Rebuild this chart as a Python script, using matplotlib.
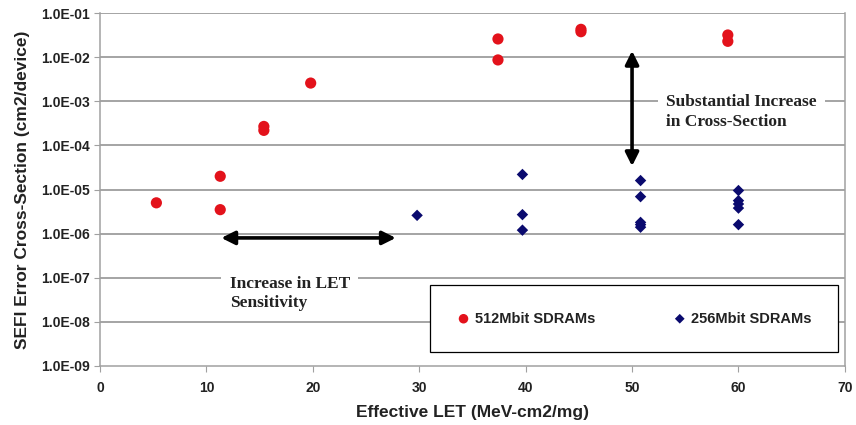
import matplotlib.pyplot as plt
import numpy as np
from matplotlib.ticker import FixedLocator, FuncFormatter

# 512Mbit SDRAMs (red circles)
let_512 = [5.3, 11.3, 11.3, 15.4, 15.4, 19.8, 37.4, 37.4, 45.2, 45.2, 59.0, 59.0]
xs_512 = [5.0e-6, 2.0e-5, 3.5e-6, 2.2e-4, 2.7e-4, 2.6e-3, 2.6e-2, 8.7e-3, 4.3e-2, 3.8e-2, 3.2e-2, 2.3e-2]

# 256Mbit SDRAMs (navy diamonds)
let_256 = [29.8, 39.7, 39.7, 39.7, 50.8, 50.8, 50.8, 50.8, 50.8, 60.0, 60.0, 60.0, 60.0, 60.0]
xs_256 = [2.6e-6, 2.2e-5, 2.7e-6, 1.2e-6, 1.6e-5, 6.9e-6, 1.8e-6, 1.6e-6, 1.4e-6,
          9.5e-6, 5.6e-6, 4.7e-6, 3.8e-6, 1.6e-6]

x_ticks = [0, 10, 20, 30, 40, 50, 60, 70]
y_ticks = [1e-9, 1e-8, 1e-7, 1e-6, 1e-5, 1e-4, 1e-3, 1e-2, 1e-1]

plt.rcParams['font.family'] = ['Liberation Sans', 'DejaVu Sans']

fig = plt.figure(figsize=(8.56, 4.25), dpi=100)
ax = fig.add_axes([0.1168, 0.139, 0.8702, 0.830])

ax.set_yscale('log')
ax.set_xlim(0, 70)
ax.set_ylim(1e-9, 1e-1)

ax.yaxis.set_major_locator(FixedLocator(y_ticks))
ax.yaxis.set_minor_locator(FixedLocator([]))
ax.yaxis.set_major_formatter(FuncFormatter(lambda v, p: "%.1E" % v))
ax.set_xticks(x_ticks)

for y in y_ticks[1:]:
    ax.axhline(y, color='#8c8c8c', lw=1.1, zorder=0)

for s in ['left', 'bottom', 'right', 'top']:
    ax.spines[s].set_color('#a0a0a0')
    ax.spines[s].set_linewidth(1.1)
ax.spines['top'].set_visible(False)

ax.tick_params(axis='both', which='major', direction='out', length=4, color='#a0a0a0',
               labelsize=10, labelcolor='#222222')
ax.tick_params(axis='x', pad=7)
for lab in ax.get_xticklabels() + ax.get_yticklabels():
    lab.set_fontweight('bold')

ax.scatter(let_512, xs_512, s=65, marker='o', color='#e3121b', edgecolors='none',
           label='512Mbit SDRAMs', zorder=3)
ax.scatter(let_256, xs_256, s=34, marker='D', color='#0a0a6e', edgecolors='none',
           label='256Mbit SDRAMs', zorder=3)

ax.set_xlabel('Effective LET (MeV-cm2/mg)', fontsize=12.5, fontweight='bold', color='#222222')
ax.set_ylabel('SEFI Error Cross-Section (cm2/device)', fontsize=12.5, fontweight='bold', color='#222222')
ax.xaxis.set_label_coords(0.5, -0.11)
ax.yaxis.set_label_coords(-0.094, 0.5)

# annotations
arrow_kw = dict(arrowstyle='<|-|>', color='black', lw=2.6, mutation_scale=20,
                shrinkA=0, shrinkB=0)
ax.annotate('', xy=(11.4, 8e-7), xytext=(27.8, 8e-7), arrowprops=arrow_kw)
ax.annotate('', xy=(50.0, 1.4e-2), xytext=(50.0, 3.4e-5), arrowprops=arrow_kw)

serif = ['Liberation Serif', 'DejaVu Serif']
ax.text(12.2, 1.12e-7, 'Increase in LET\nSensitivity', family=serif, fontweight='bold',
        fontsize=12.5, va='top', ha='left', linespacing=1.3, color='#222222',
        bbox=dict(facecolor='white', edgecolor='none', pad=6))
ax.text(53.2, 1.45e-3, 'Substantial Increase\nin Cross-Section', family=serif, fontweight='bold',
        fontsize=12.5, va='top', ha='left', linespacing=1.3, color='#222222',
        bbox=dict(facecolor='white', edgecolor='none', pad=6))

leg = ax.legend(loc='lower left', bbox_to_anchor=(0.443, 0.04, 0.548, 0.20), mode='expand',
                ncol=2, frameon=True, fancybox=False, edgecolor='black', framealpha=1,
                prop={'weight': 'bold', 'size': 10.5}, handlelength=1, handletextpad=0.3,
                markerscale=0.85, borderpad=1.8, borderaxespad=0)
leg.get_frame().set_linewidth(0.9)
for t in leg.get_texts():
    t.set_color('#222222')

plt.savefig('out.png', dpi=100)
